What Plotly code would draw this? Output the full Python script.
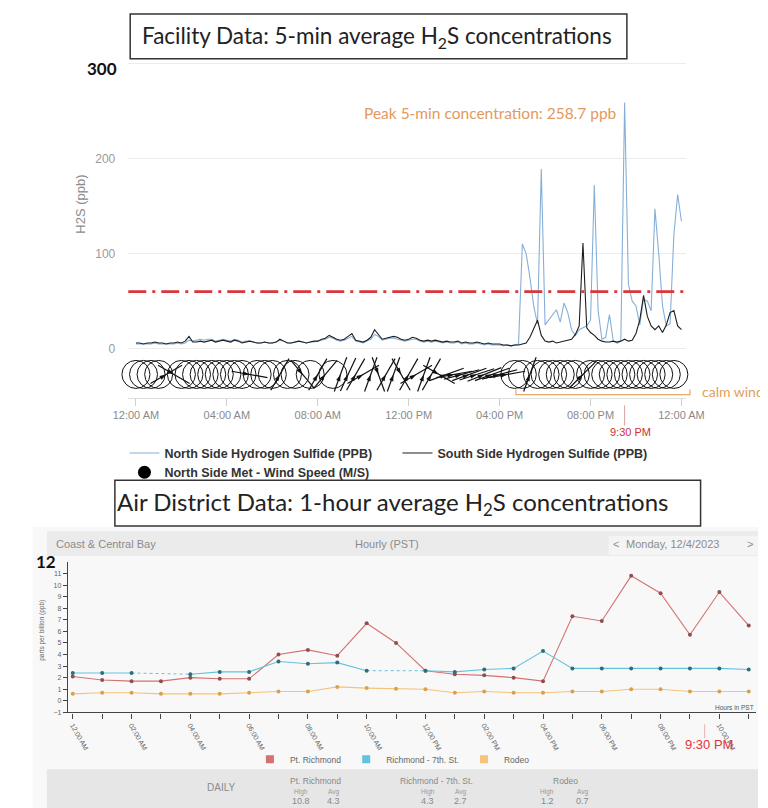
import plotly.graph_objects as go

W, H = 768, 808


def px(x):
    return x / W


def py(y):
    return 1 - y / H


# ---------------- TOP CHART DATA (facility, read every 10 minutes) ----------------
north_h2s = [
    5, 5, 5, 5, 5, 6, 5, 5, 5, 5, 5, 6, 5,
    6, 9, 8, 9, 10, 9, 10, 10, 8, 9, 10,
    9, 8, 10, 9, 7, 8, 8, 7, 6, 6, 7, 6,
    6, 7, 9, 8, 6, 6, 7, 8, 7, 6, 7, 7,
    8, 9, 10, 12, 11, 9, 8, 9, 11, 13, 8, 7,
    6, 8, 10, 15, 13, 9, 10, 11, 11, 10, 9, 8,
    9, 10, 10, 8, 7, 8, 7, 8, 7, 6, 7, 6,
    6, 7, 5, 6, 5, 5, 6, 5, 4, 5, 4, 4,
    4, 3, 4, 3, 4, 5,
    110, 100, 75, 45, 26, 189,
    25, 30, 36, 41, 28, 48,
    38, 20, 14, 20, 22, 24,
    30, 172, 40, 10, 12, 36,
    8, 6, 8, 258.7, 68, 50,
    45, 25, 52, 50, 40, 147,
    100, 45, 24, 26, 120, 162,
    134,
]
south_h2s = [
    6, 6, 5, 6, 6, 7, 6, 6, 5, 6, 6, 7, 6,
    8, 13, 7, 7, 8, 7, 8, 9, 7, 8, 9,
    8, 7, 9, 8, 6, 7, 8, 7, 6, 6, 7, 6,
    6, 7, 10, 8, 6, 6, 7, 8, 7, 6, 7, 8,
    8, 10, 11, 14, 12, 10, 9, 10, 13, 16, 9, 8,
    7, 9, 12, 20, 15, 10, 11, 12, 13, 12, 10, 9,
    10, 12, 11, 9, 8, 9, 8, 9, 8, 7, 8, 7,
    7, 8, 6, 7, 6, 6, 7, 6, 5, 6, 5, 5,
    5, 4, 4, 3, 4, 4,
    5, 6, 12, 22, 30, 14,
    8, 7, 8, 6, 7, 8,
    9, 10, 15, 24, 111, 22,
    17, 14, 10, 8, 7, 7,
    8, 7, 8, 10, 8, 9,
    16, 30, 56, 34, 24, 20,
    24, 17, 25, 38, 40, 24,
    20,
]
top_hours = [i / 6 for i in range(len(north_h2s))]

# wind (every 20 minutes): speed m/s and direction in degrees
wind_speed = [
    0.2, 0.1, 0.2, 0.3, 0.8, 0.9, 0.2, 0.1, 0.2, 0.1, 0.2, 0.1,
    0.2, 0.1, 0.3, 0.7, 0.2, 0.3, 0.1, 0.8, 0.2, 0.3, 0.7, 0.2,
    0.8, 0.9, 0.3, 1.2, 1.4, 1.5, 1.6, 1.8, 1.7, 1.6, 1.9, 1.8,
    1.6, 1.5, 1.7, 1.8, 1.5, 1.4, 1.3, 1.4, 1.5, 1.6, 1.4, 1.3,
    1.1, 0.9, 0.2, 0.3, 0.7, 0.2, 0.1, 0.2, 0.3, 0.2, 0.1, 0.6,
    0.2, 0.3, 0.1, 0.2, 0.1, 0.2, 0.3, 0.2, 0.1, 0.2, 0.3, 0.2,
]
wind_dir = [
    0, 0, 0, 0, 60, 120, 0, 0, 0, 0, 0, 0,
    0, 0, 0, 100, 0, 0, 0, 30, 0, 0, 140, 0,
    30, 40, 0, 20, 25, 30, 60, 20, 160, 30, 20, 150,
    30, 60, 20, 30, 120, 70, 80, 75, 70, 72, 68, 70,
    75, 80, 0, 0, 20, 0, 0, 0, 0, 0, 0, 45,
    0, 0, 0, 0, 0, 0, 0, 0, 0, 0, 0, 0,
]
wind_hours = [i / 3 for i in range(len(wind_speed))]
CALM = 0.5

top_tickvals = [0, 4, 8, 12, 16, 20, 24]
top_ticktext = ["12:00 AM", "04:00 AM", "08:00 AM", "12:00 PM", "04:00 PM", "08:00 PM", "12:00 AM"]
threshold_ppb = 60
peak_time = 21.5
peak_value = 258.7

# ---------------- BOTTOM CHART DATA (Air District hourly) ----------------
hours = list(range(24))
pt_richmond = [2.1, 1.8, 1.7, 1.7, 2.0, 1.9, 1.9, 4.0, 4.4, 3.9, 6.7, 5.0,
               2.6, 2.3, 2.2, 2.0, 1.7, 7.3, 6.9, 10.8, 9.3, 5.7, 9.4, 6.5]
richmond_7th = [2.4, 2.4, 2.4, None, 2.3, 2.5, 2.5, 3.4, 3.2, 3.3, 2.6, None,
                2.6, 2.5, 2.7, 2.8, 4.3, 2.8, 2.8, 2.8, 2.8, 2.8, 2.8, 2.7]
rodeo = [0.6, 0.7, 0.7, 0.6, 0.6, 0.6, 0.7, 0.8, 0.8, 1.2, 1.1, 1.05,
         1.0, 0.7, 0.8, 0.7, 0.7, 0.8, 0.8, 1.0, 1.0, 0.8, 0.8, 0.8]
label_hours = list(range(0, 24, 2))
hour_labels = ["12:00 AM", "02:00 AM", "04:00 AM", "06:00 AM", "08:00 AM", "10:00 AM",
               "12:00 PM", "02:00 PM", "04:00 PM", "06:00 PM", "08:00 PM", "10:00 PM"]
stations = ["Pt. Richmond", "Richmond - 7th. St.", "Rodeo"]
daily_high = ["10.8", "4.3", "1.2"]
daily_avg = ["4.3", "2.7", "0.7"]

# ---------------- geometry ----------------
TOP_X = (110, 693)
TOP_XR = (-0.337, 24.21)
TOP_Y = (391, 53)
TOP_YR = (-51.3, 302.6)
BOT_X = (47, 766)
BOT_XR = (-0.163, 23.25)
BOT_Y = (707, 556)
BOT_YR = (-1, 12)


def top_xpx(h):
    return TOP_X[0] + (h - TOP_XR[0]) / (TOP_XR[1] - TOP_XR[0]) * (TOP_X[1] - TOP_X[0])


def bot_xpx(h):
    return BOT_X[0] + (h - BOT_XR[0]) / (BOT_XR[1] - BOT_XR[0]) * (BOT_X[1] - BOT_X[0])


fig = go.Figure()

# ---- top traces
fig.add_trace(go.Scatter(x=top_hours, y=north_h2s, mode="lines", name="North Side Hydrogen Sulfide (PPB)",
                         line=dict(color="#86afd8", width=1.1), xaxis="x", yaxis="y", legend="legend"))
fig.add_trace(go.Scatter(x=top_hours, y=south_h2s, mode="lines", name="South Side Hydrogen Sulfide (PPB)",
                         line=dict(color="#1e1e1e", width=1.1), xaxis="x", yaxis="y", legend="legend"))

WIND_ROW = -27
calm_x = [h for h, s in zip(wind_hours, wind_speed) if s < CALM]
windy = [(h, d) for h, s, d in zip(wind_hours, wind_speed, wind_dir) if s >= CALM]
fig.add_trace(go.Scatter(x=calm_x, y=[WIND_ROW] * len(calm_x), mode="markers", showlegend=False,
                         marker=dict(symbol="circle-open", size=28, color="#111", line=dict(width=1)),
                         xaxis="x", yaxis="y", cliponaxis=False))
fig.add_trace(go.Scatter(x=[w[0] for w in windy], y=[WIND_ROW] * len(windy), mode="markers", showlegend=False,
                         marker=dict(symbol="line-ns", size=26, angle=[w[1] for w in windy], color="#111",
                                     line=dict(width=1.2, color="#111")),
                         xaxis="x", yaxis="y", cliponaxis=False))
fig.add_trace(go.Scatter(x=[w[0] for w in windy], y=[WIND_ROW] * len(windy), mode="markers", showlegend=False,
                         marker=dict(symbol="arrow", size=7, angle=[w[1] for w in windy], color="#111"),
                         xaxis="x", yaxis="y", cliponaxis=False))
fig.add_trace(go.Scatter(x=[None], y=[None], mode="markers", name="North Side Met - Wind Speed (M/S)",
                         marker=dict(symbol="circle", size=13, color="#000"), xaxis="x", yaxis="y",
                         legend="legend"))
# 9:30 PM marker (top)
fig.add_trace(go.Scatter(x=[peak_time], y=[-55.5], mode="markers", showlegend=False, cliponaxis=False,
                         marker=dict(symbol="triangle-up", size=10, color="#d42a2a"), xaxis="x", yaxis="y"))

# ---- bottom traces
bot_cols = [("#d27272", "#8f4f4f"), ("#63c3dc", "#2d6e7e"), ("#f5c37a", "#d9a24a")]
for name, vals, (lc, mc) in zip(stations, [pt_richmond, richmond_7th, rodeo], bot_cols):
    # dotted connections over missing hours
    for i, v in enumerate(vals):
        if v is None and 0 < i < len(vals) - 1:
            fig.add_trace(go.Scatter(x=[hours[i - 1], hours[i + 1]], y=[vals[i - 1], vals[i + 1]],
                                     mode="lines", showlegend=False, line=dict(color=lc, width=1, dash="dot"),
                                     xaxis="x2", yaxis="y2"))
    fig.add_trace(go.Scatter(x=hours, y=vals, mode="lines+markers", showlegend=False,
                             line=dict(color=lc, width=1.1), marker=dict(size=4, color=mc),
                             xaxis="x2", yaxis="y2"))
    fig.add_trace(go.Scatter(x=[None], y=[None], mode="markers", name=name, legend="legend2",
                             marker=dict(symbol="square", size=8, color=lc), xaxis="x2", yaxis="y2"))
fig.add_trace(go.Scatter(x=[peak_time], y=[-1.6], mode="markers", showlegend=False, cliponaxis=False,
                         marker=dict(symbol="triangle-up", size=11, color="#e02828"), xaxis="x2", yaxis="y2"))

grey = "#8c8c8c"
shapes = []
annotations = []

# panels / boxes
shapes.append(dict(type="rect", xref="paper", yref="paper", x0=px(10), x1=px(768), y0=py(808), y1=py(521),
                   fillcolor="#f8f8f8", line=dict(width=0), layer="below"))
shapes.append(dict(type="rect", xref="paper", yref="paper", x0=px(25), x1=px(768), y0=py(550), y1=py(525),
                   fillcolor="#ebebeb", line=dict(width=0), layer="below"))
shapes.append(dict(type="rect", xref="paper", yref="paper", x0=px(612), x1=px(768), y0=py(549), y1=py(530),
                   fillcolor="#f4f4f4", line=dict(width=0), layer="below"))
shapes.append(dict(type="rect", xref="paper", yref="paper", x0=px(25), x1=px(768), y0=py(808), y1=py(764),
                   fillcolor="#e6e6e6", line=dict(width=0), layer="below"))
shapes.append(dict(type="rect", xref="paper", yref="paper", x0=px(112), x1=px(631), y0=py(51), y1=py(6),
                   fillcolor="white", line=dict(color="#333", width=1.5)))
shapes.append(dict(type="rect", xref="paper", yref="paper", x0=px(96), x1=px(708), y0=py(520), y1=py(474),
                   fillcolor="white", line=dict(color="#333", width=1.5)))

# threshold line
shapes.append(dict(type="line", xref="x domain", yref="y", x0=0, x1=1, y0=threshold_ppb, y1=threshold_ppb,
                   line=dict(color="#d9363e", width=2.6, dash="18px,6px,3px,6px")))
# calm winds bracket
shapes.append(dict(type="path", xref="paper", yref="paper",
                   path=f"M {px(515)} {py(383)} L {px(515)} {py(388)} L {px(697)} {py(388)} L {px(697)} {py(383)}",
                   line=dict(color="#e8a96a", width=1.2)))
# top 9:30 pointer line
tx = top_xpx(peak_time)
shapes.append(dict(type="line", xref="paper", yref="paper", x0=px(tx), x1=px(tx), y0=py(399), y1=py(419),
                   line=dict(color="#d9a0a0", width=1)))
bx = bot_xpx(peak_time)
shapes.append(dict(type="line", xref="paper", yref="paper", x0=px(bx), x1=px(bx), y0=py(719), y1=py(733),
                   line=dict(color="#e9b0b0", width=1)))


def ann(text, x, y, size, color, family="Liberation Sans", xanchor="center", yanchor="middle", **kw):
    annotations.append(dict(text=text, x=px(x), y=py(y), xref="paper", yref="paper", showarrow=False,
                            xanchor=xanchor, yanchor=yanchor,
                            font=dict(size=size, color=color, family=family, **kw.pop("font", {})), **kw))


ann("Facility Data: 5-min average H<sub>2</sub>S concentrations", 370, 29, 22.5, "#222", family="Lato")
ann("300", 83, 61, 17, "#111", family="Lato", font=dict(weight="bold"))
ann("H2S (ppb)", 60, 197, 13, grey, textangle=-90)
ann(f"Peak 5-min concentration: {peak_value} ppb", 623, 105, 15.5, "#e29a60", family="Lato", xanchor="right")
ann("calm winds", 707, 385, 14, "#e0a060", family="Lato", xanchor="left")
ann("9:30 PM", tx + 6, 426, 11, "#d03030")

ann("Air District Data: 1-hour average H<sub>2</sub>S concentrations", 386, 497, 24, "#222", family="Lato")
ann("Coast &amp; Central Bay", 32, 538, 11, "#8c8c8c", xanchor="left")
ann("Hourly (PST)", 380, 538, 11, "#8c8c8c")
ann("&lt;", 620, 538, 11, "#8c8c8c")
ann("Monday, 12/4/2023", 628, 538, 11, "#8c8c8c", xanchor="left")
ann("&gt;", 760, 538, 11, "#8c8c8c")
ann("12", 24, 556, 17, "#111", family="Lato", font=dict(weight="bold"))
ann("parts per billion (ppb)", 20, 625, 6.5, "#666", textangle=-90)
ann("Hours in PST", 743, 702, 6.5, "#555")
ann("9:30 PM", bx + 5, 739, 13, "#e03535")

ann("DAILY", 207, 782, 10, "#8c8c8c")
name_x = [306, 432, 567]
high_x = [290, 423, 548]
avg_x = [324, 457, 585]
for nm, hi, av, nx, hx, axx in zip(stations, daily_high, daily_avg, name_x, high_x, avg_x):
    ann(nm, nx, 776, 8.5, "#888")
    ann("High", hx, 787, 6.5, "#999")
    ann("Avg", axx, 787, 6.5, "#999")
    ann(hi, hx, 796, 9, "#888")
    ann(av, axx, 796, 9, "#888")

fig.update_layout(
    width=W, height=H, autosize=False,
    margin=dict(l=0, r=0, t=0, b=0),
    paper_bgcolor="white", plot_bgcolor="rgba(0,0,0,0)",
    shapes=shapes, annotations=annotations,
    xaxis=dict(domain=[px(TOP_X[0]), px(TOP_X[1])], range=list(TOP_XR), anchor="y",
               tickmode="array", tickvals=top_tickvals, ticktext=top_ticktext,
               ticks="outside", ticklen=7, tickcolor="#cfcfcf", showline=True, linecolor="#dedede",
               showgrid=False, zeroline=False,
               tickfont=dict(family="Liberation Sans", size=11, color="#8a8a8a")),
    yaxis=dict(domain=[py(TOP_Y[0]), py(TOP_Y[1])], range=list(TOP_YR), anchor="x",
               tickmode="array", tickvals=[0, 100, 200],
               showgrid=True, gridcolor="#ececec", gridwidth=1, zeroline=False, showline=False, ticks="",
               minor=dict(tickmode="array", tickvals=[300], showgrid=True, gridcolor="#ececec", ticks=""),
               ticklabelstandoff=12,
               tickfont=dict(family="Liberation Sans", size=12, color="#9a9a9a")),
    xaxis2=dict(domain=[px(BOT_X[0]), px(BOT_X[1])], range=list(BOT_XR), anchor="y2",
                tickmode="array", tickvals=label_hours, ticktext=hour_labels, tickangle=60,
                ticks="outside", ticklen=5, tickcolor="#444", showline=True, linecolor="#444", linewidth=1.4,
                minor=dict(tickmode="array", tickvals=hours, ticks="outside", ticklen=5, tickcolor="#444",
                           showgrid=False),
                showgrid=False, zeroline=False,
                tickfont=dict(family="Liberation Sans", size=7, color="#666")),
    yaxis2=dict(domain=[py(BOT_Y[0]), py(BOT_Y[1])], range=list(BOT_YR), anchor="x2",
                tickmode="array", tickvals=list(range(-1, 12)),
                ticks="outside", ticklen=4, tickcolor="#444", showline=True, linecolor="#444", linewidth=1.4,
                showgrid=False, zeroline=False,
                tickfont=dict(family="Liberation Sans", size=7, color="#666")),
    legend=dict(orientation="h", x=px(106), y=py(432), xanchor="left", yanchor="top",
                bgcolor="rgba(0,0,0,0)", itemwidth=30, tracegroupgap=0,
                entrywidth=228, entrywidthmode="pixels",
                font=dict(family="Liberation Sans", size=12.5, color="#333", weight="bold")),
    legend2=dict(orientation="h", x=px(386), y=py(754), xanchor="center", yanchor="middle",
                 bgcolor="rgba(0,0,0,0)", itemwidth=30,
                 font=dict(family="Liberation Sans", size=8.5, color="#666")),
)

fig.write_html("out.html")
